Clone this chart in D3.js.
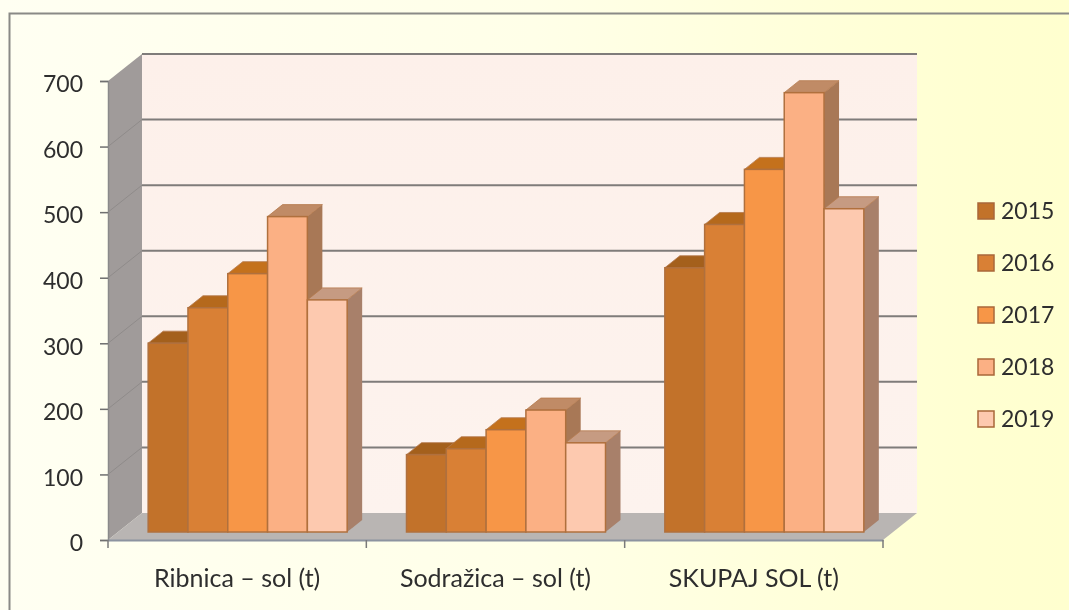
<!DOCTYPE html>
<html>
<head>
<meta charset="utf-8">
<script src="https://cdn.jsdelivr.net/npm/d3@7"></script>
<style>
  html, body { margin: 0; padding: 0; overflow: hidden; }
  text { font-family: Lato, "Open Sans", sans-serif; fill: #2e2e2e; }
</style>
</head>
<body>
<div id="plot"></div>
<script>
// values
const categories = ["Ribnica – sol (t)", "Sodražica – sol (t)", "SKUPAJ SOL  (t)"];
const years = ["2015", "2016", "2017", "2018", "2019"];
const values2015 = [288, 118, 403];
const values2016 = [342, 127, 469];
const values2017 = [394, 156, 553];
const values2018 = [481, 186, 670];
const values2019 = [354, 136, 493];
const series = [values2015, values2016, values2017, values2018, values2019];
const yTicks = [0, 100, 200, 300, 400, 500, 600, 700];

const frontColors = ["#c2722c", "#d98036", "#f79646", "#fbb084", "#fdc9af"];
const topColors = ["#a4601f", "#b5691f", "#c4711f", "#c08b66", "#c69b82"];
const sideColors = ["#9c6030", "#a86a35", "#b0703a", "#a87856", "#a8806a"];

const width = 1069, height = 610;

// dimensions of the 3d box
const margin = {top: 81, right: 186, bottom: 70, left: 108};
const wallDx = 34, wallDy = -27;   // floor depth
const planeDx = 10.5, planeDy = -8;  // where the bars stand on the floor
const barDx = 15, barDy = -12;     // bar depth

const svg = d3.select("#plot")
  .append("svg")
    .attr("width", width)
    .attr("height", height);

const defs = svg.append("defs");
const bg = defs.append("linearGradient").attr("id", "bg");
bg.append("stop").attr("offset", "0").attr("stop-color", "#fffff2");
bg.append("stop").attr("offset", "0.5").attr("stop-color", "#ffffe8");
bg.append("stop").attr("offset", "0.92").attr("stop-color", "#ffffd1");
bg.append("stop").attr("offset", "1").attr("stop-color", "#ffffcf");

const wallGrad = defs.append("linearGradient").attr("id", "wall").attr("x2", 0).attr("y2", 1);
wallGrad.append("stop").attr("offset", "0").attr("stop-color", "#fdf0ea");
wallGrad.append("stop").attr("offset", "1").attr("stop-color", "#fdf3ee");

defs.append("filter").attr("id", "soft")
  .append("feGaussianBlur").attr("stdDeviation", 0.5);

svg.append("rect")
  .attr("width", width)
  .attr("height", height)
  .attr("fill", "url(#bg)");

// frame of the slide
svg.append("path")
  .attr("d", "M9.5,610V13.5H1069")
  .attr("fill", "none")
  .attr("stroke", "#8a8a86")
  .attr("stroke-width", 2);

const g = svg.append("g").attr("filter", "url(#soft)");

const xAxisY = height - margin.bottom;
const x = d3.scaleBand()
  .domain(categories)
  .range([margin.left, width - margin.right]);

const y = d3.scaleLinear()
  .domain([0, 700])
  .range([xAxisY, margin.top]);

const inner = d3.scaleBand()
  .domain(years)
  .range([0, 199]);
const groupOffset = (x.bandwidth() - 199) / 2 + planeDx;

const x0 = x.range()[0], x1 = x.range()[1];

// back wall
g.append("rect")
  .attr("x", x0 + wallDx)
  .attr("y", y(700) + wallDy)
  .attr("width", x1 - x0)
  .attr("height", y(0) - y(700))
  .attr("fill", "url(#wall)");

// left wall
g.append("path")
  .attr("d", `M${x0},${y(0)}L${x0},${y(700)}L${x0 + wallDx},${y(700) + wallDy}L${x0 + wallDx},${y(0) + wallDy}Z`)
  .attr("fill", "#a09b9a");

// floor
g.append("path")
  .attr("d", `M${x0},${y(0)}L${x0 + wallDx},${y(0) + wallDy}L${x1 + wallDx},${y(0) + wallDy}L${x1},${y(0)}Z`)
  .attr("fill", "#b9b5b3");

// gridlines
g.selectAll(".grid")
  .data(yTicks.slice(1))
  .enter()
  .append("line")
    .attr("x1", x0 + wallDx)
    .attr("x2", x1 + wallDx)
    .attr("y1", d => y(d) + wallDy)
    .attr("y2", d => y(d) + wallDy)
    .attr("stroke", "#7f7b7a")
    .attr("stroke-width", 2);

g.selectAll(".gridside")
  .data(yTicks.slice(1, -1))
  .enter()
  .append("line")
    .attr("x1", x0)
    .attr("x2", x0 + wallDx)
    .attr("y1", d => y(d))
    .attr("y2", d => y(d) + wallDy)
    .attr("stroke", "#8f8b8a")
    .attr("stroke-width", 1);

// bars, drawn left to right so the next bar covers the side of the one before
const bars = [];
categories.forEach((c, ci) => {
  series.forEach((s, si) => {
    bars.push({cat: c, year: years[si], value: s[ci], si: si});
  });
});

const bar = g.selectAll(".bar")
  .data(bars)
  .enter()
  .append("g")
    .attr("transform", d => `translate(${x(d.cat) + groupOffset + inner(d.year)},${planeDy})`);

const bw = inner.bandwidth();

bar.append("path") // side
  .attr("d", d => `M${bw},${y(d.value)}L${bw + barDx},${y(d.value) + barDy}L${bw + barDx},${y(0) + barDy}L${bw},${y(0)}Z`)
  .attr("fill", d => sideColors[d.si]);

bar.append("path") // top
  .attr("d", d => `M0,${y(d.value)}L${barDx},${y(d.value) + barDy}L${bw + barDx},${y(d.value) + barDy}L${bw},${y(d.value)}Z`)
  .attr("fill", d => topColors[d.si])
  .attr("stroke", "#b57a4c")
  .attr("stroke-width", 0.8);

bar.append("rect") // front
  .attr("x", 0)
  .attr("y", d => y(d.value))
  .attr("width", bw)
  .attr("height", d => y(0) - y(d.value))
  .attr("fill", d => frontColors[d.si])
  .attr("stroke", "#b0703e")
  .attr("stroke-width", 1.5);

// axes
const yAxis = g.append("g")
  .attr("transform", `translate(${x0},0)`)
  .call(d3.axisLeft(y).tickValues(yTicks).tickSize(8).tickPadding(17));
yAxis.select(".domain").attr("stroke", "#8a8a8a").attr("stroke-width", 1.5);
yAxis.selectAll(".tick line").attr("stroke", "#6f6f6f").attr("stroke-width", 1.5);
yAxis.selectAll("text").attr("dy", "0.47em").style("font-size", "23px");

const xAxis = g.append("g")
  .attr("transform", `translate(0,${xAxisY})`)
  .call(d3.axisBottom(x).tickSize(0).tickPadding(29));
xAxis.select(".domain").attr("stroke", "#8c93a0").attr("stroke-width", 2);
xAxis.selectAll("text").style("font-size", "25px");

// category ticks sit on the band edges
g.selectAll(".edge")
  .data(categories.concat("end"))
  .enter()
  .append("line")
    .attr("x1", (d, i) => x0 + i * x.step())
    .attr("x2", (d, i) => x0 + i * x.step())
    .attr("y1", xAxisY)
    .attr("y2", xAxisY + 8)
    .attr("stroke", "#7a7a7a")
    .attr("stroke-width", 1.5);

// legend
const legendY = d3.scalePoint()
  .domain(years)
  .range([211, 419]);

const legend = g.selectAll(".legend")
  .data(years)
  .enter()
  .append("g")
    .attr("transform", d => `translate(978,${legendY(d)})`);

legend.append("rect")
  .attr("y", -8)
  .attr("width", 16)
  .attr("height", 16)
  .attr("fill", (d, i) => frontColors[i])
  .attr("stroke", "#a9683a")
  .attr("stroke-width", 1.5);

legend.append("text")
  .attr("x", 23)
  .attr("dy", "0.36em")
  .style("font-size", "23px")
  .text(d => d);
</script>
</body>
</html>
